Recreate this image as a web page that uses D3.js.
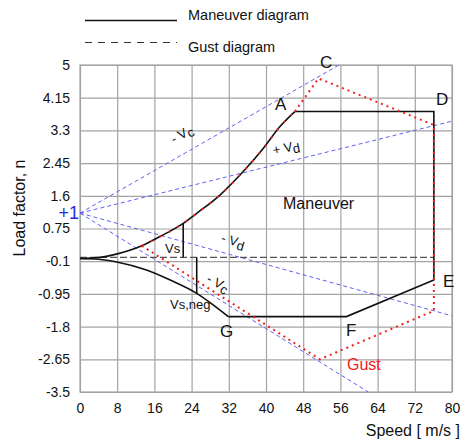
<!DOCTYPE html>
<html lang="en">
<head>
<meta charset="UTF-8">
<title>V-n diagram</title>
<script src="https://cdn.jsdelivr.net/npm/d3@7/dist/d3.min.js"></script>
<style>
    body { margin: 0; background: #fff; }
    text { font-family: "Liberation Sans", Arial, sans-serif; fill: #111; }
</style>
</head>
<body>
<div id="container"></div>
<script>
    // tick values
    let xTicks = [0, 8, 16, 24, 32, 40, 48, 56, 64, 72, 80]
    let yTicks = [5, 4.15, 3.3, 2.45, 1.6, 0.75, -0.1, -0.95, -1.8, -2.65, -3.5]

    // maneuver diagram (speed, n)
    let posStall = [[0, -0.03], [4.3, 0.0], [8, 0.09], [13.3, 0.30], [17.2, 0.54], [22.2, 0.885],
        [25.1, 1.145], [30.1, 1.62], [35.1, 2.23], [39.4, 2.83], [43.0, 3.40], [46.2, 3.79]]
    let negStall = [[0, -0.03], [4, -0.05], [7.9, -0.12], [14.3, -0.33], [19.4, -0.59], [25.1, -0.935],
        [28.7, -1.24], [31.9, -1.54]]
    let maneuverRest = [[46.2, 3.79], [76.1, 3.79], [76.1, -0.59], [57.3, -1.54], [31.9, -1.54]]
    let vsLine = [[22.2, 0], [22.2, 0.885]]
    let vsNegLine = [[25.1, 0], [25.1, -0.935]]
    let baseLine = [[0, 0], [76.1, 0]]

    // gust diagram
    let gustOnStall = posStall.filter(d => d[0] >= 13.3)
    let gustCorners = [[46.2, 3.79], [51.3, 4.65], [76.1, 3.44], [76.1, -1.39], [51.6, -2.65], [13.3, 0.30]]

    // gust lines from +1
    let gustOrigin = [0, 1.15]
    let gustEnds = [[55.7, 5], [80, 3.54], [80, -1.52], [62, -3.5]]

    let width = 467
    let height = 441
    let padL = 80, padR = 452, padT = 65, padB = 392

    let x = d3.scaleLinear().domain([0, 80]).range([padL, padR])
    let y = d3.scaleLinear().domain([-3.5, 5]).range([padB, padT])

    let svg = d3.select('#container')
        .append('svg')
        .attr('width', width)
        .attr('height', height)

    let gridColor = '#a4a4a4'

    // grid via axes
    let gx = svg.append('g')
        .attr('transform', 'translate(0,' + padB + ')')
        .call(d3.axisBottom(x).tickValues(xTicks).tickSize(-(padB - padT)).tickFormat(d3.format('d')))
    gx.select('.domain').remove()
    gx.selectAll('line').attr('stroke', gridColor).attr('stroke-width', 1.2)
    gx.selectAll('text').attr('y', 21).attr('dy', 0).style('font-size', '14px').attr('fill', '#111')

    let gy = svg.append('g')
        .attr('transform', 'translate(' + padL + ',0)')
        .call(d3.axisLeft(y).tickValues(yTicks).tickSize(-(padR - padL)).tickFormat(d => d))
    gy.select('.domain').remove()
    gy.selectAll('line').attr('stroke', gridColor).attr('stroke-width', 1.2)
    gy.selectAll('text').attr('x', -10).style('font-size', '14px').attr('fill', '#111')

    svg.append('rect')
        .attr('x', padL).attr('y', padT)
        .attr('width', padR - padL).attr('height', padB - padT)
        .attr('fill', 'none').attr('stroke', gridColor).attr('stroke-width', 1.2)

    let line = d3.line().x(d => x(d[0])).y(d => y(d[1]))
    let curve = d3.line().x(d => x(d[0])).y(d => y(d[1])).curve(d3.curveMonotoneX)

    // blue gust lines
    gustEnds.forEach(function (e) {
        svg.append('path')
            .attr('d', line([gustOrigin, e]))
            .attr('fill', 'none')
            .attr('stroke', '#6060f4')
            .attr('stroke-width', 1)
            .attr('stroke-dasharray', '4,3')
    })

    // dashed baseline
    svg.append('path')
        .attr('d', line(baseLine))
        .attr('fill', 'none')
        .attr('stroke', '#555')
        .attr('stroke-width', 1.2)
        .attr('stroke-dasharray', '7,3')

    // maneuver diagram
    let black = '#111'
    ;[posStall, negStall].forEach(function (c) {
        svg.append('path').attr('d', curve(c))
            .attr('fill', 'none').attr('stroke', black).attr('stroke-width', 1.6)
    })
    ;[maneuverRest, vsLine, vsNegLine].forEach(function (c) {
        svg.append('path').attr('d', line(c))
            .attr('fill', 'none').attr('stroke', black).attr('stroke-width', 1.6)
    })

    // gust diagram (red dotted)
    svg.append('path').attr('d', curve(gustOnStall))
        .attr('fill', 'none').attr('stroke', '#f02020').attr('stroke-width', 2)
        .attr('stroke-dasharray', '2,8')
    svg.append('path').attr('d', line(gustCorners))
        .attr('fill', 'none').attr('stroke', '#f02020').attr('stroke-width', 2)
        .attr('stroke-dasharray', '2,4')

    // legend
    svg.append('line').attr('x1', 85).attr('x2', 177).attr('y1', 20.5).attr('y2', 20.5)
        .attr('stroke', black).attr('stroke-width', 1.6)
    svg.append('line').attr('x1', 85).attr('x2', 177).attr('y1', 42.5).attr('y2', 42.5)
        .attr('stroke', '#333').attr('stroke-width', 1.2).attr('stroke-dasharray', '7,6')
    svg.append('text').attr('x', 188).attr('y', 20).style('font-size', '14.5px').text('Maneuver diagram')
    svg.append('text').attr('x', 188).attr('y', 52).style('font-size', '14.5px').text('Gust diagram')

    // axis titles
    svg.append('text')
        .attr('transform', 'translate(25,208) rotate(-90)')
        .attr('text-anchor', 'middle')
        .style('font-size', '16px')
        .text('Load factor, n')
    svg.append('text')
        .attr('x', 460).attr('y', 436)
        .attr('text-anchor', 'end')
        .style('font-size', '16px')
        .text('Speed [ m/s ]')

    svg.append('text')
        .attr('x', x(0) - 1).attr('y', y(gustOrigin[1]) + 6)
        .attr('text-anchor', 'end')
        .style('font-size', '18px')
        .style('fill', '#2a2ae0')
        .text('+1')

    // point letters
    let letters = [['A', 275, 110], ['C', 320, 68], ['D', 436, 105], ['E', 443, 287], ['F', 346, 336], ['G', 220, 337]]
    svg.selectAll('.pt')
        .data(letters)
        .enter()
        .append('text')
        .attr('class', 'pt')
        .attr('x', d => d[1]).attr('y', d => d[2])
        .style('font-size', '17px')
        .text(d => d[0])

    svg.append('text').attr('x', 283).attr('y', 209).style('font-size', '16px').text('Maneuver')
    svg.append('text').attr('x', 347).attr('y', 370).style('font-size', '16px').style('fill', '#f02020').text('Gust')
    svg.append('text').attr('x', 165).attr('y', 253).style('font-size', '13px').text('Vs')
    svg.append('text').attr('x', 170).attr('y', 309).style('font-size', '13px').text('Vs,neg')

    // rotated speed labels
    let speedLabels = [['- V', 'c', 184, 138, -30], ['+ V', 'd', 287, 152, -12], ['- V', 'd', 232, 245, 16], ['- V', 'c', 216, 287, 28]]
    speedLabels.forEach(function (s) {
        let t = svg.append('text')
            .attr('transform', 'translate(' + s[2] + ',' + s[3] + ') rotate(' + s[4] + ')')
            .attr('text-anchor', 'middle')
            .style('font-size', '13px')
        t.append('tspan').text(s[0])
        t.append('tspan').attr('dy', 3).text(s[1])
    })
</script>
</body>
</html>
